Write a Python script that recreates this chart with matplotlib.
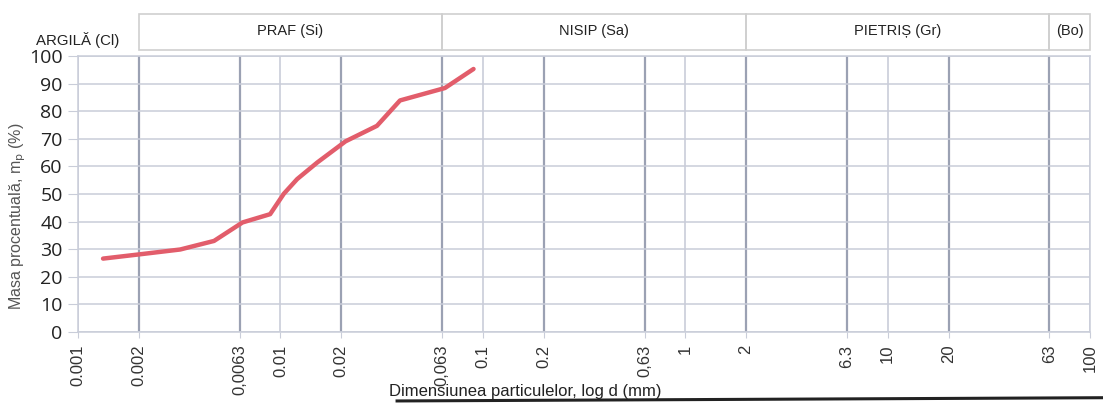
# Granulometric curve (particle size distribution)

import numpy as np
import matplotlib
matplotlib.use('Agg')
import matplotlib.pyplot as plt
from matplotlib.lines import Line2D
from matplotlib.patches import Rectangle
import matplotlib.transforms as mtransforms

# Data
diam = [0.00133, 0.0021, 0.0032, 0.0047, 0.0065, 0.0089, 0.0104,
        0.0121, 0.0152, 0.021, 0.030, 0.039, 0.065, 0.09]
passing = [26.6, 28.3, 29.9, 33.0, 39.7, 42.7, 50.1,
           55.4, 61.4, 69.1, 74.7, 83.9, 88.4, 95.3]

# tick values and their printed labels (mixed comma/dot as in the original)
x_ticks = [0.001, 0.002, 0.0063, 0.01, 0.02, 0.063, 0.1, 0.2, 0.63,
           1, 2, 6.3, 10, 20, 63, 100]
x_labels = ['0.001', '0.002', '0,0063', '0.01', '0.02', '0,063', '0.1',
            '0.2', '0,63', '1', '2', '6.3', '10', '20', '63', '100']
y_ticks = [0, 10, 20, 30, 40, 50, 60, 70, 80, 90, 100]

# soil classes on top of the chart
classes = ['PRAF (Si)', 'NISIP (Sa)', 'PIETRIȘ (Gr)', '(Bo)']
class_limits = [0.002, 0.063, 2, 63, 100]

sans = ['Liberation Sans', 'DejaVu Sans']
light = '#c9cdd9'
dark = '#9ba1b3'

fig = plt.figure(figsize=(11.03, 4.05), dpi=100)
ax = fig.add_axes([0.0707, 0.1802, 0.9175, 0.6815])

ax.set_xscale('log')
ax.set_xlim(0.001, 100)
ax.set_ylim(0, 100)

# grid: decades light, class boundaries a bit darker
for v in x_ticks:
    if np.isclose(np.log10(v), round(np.log10(v))):
        ax.axvline(v, color=light, lw=1.2, zorder=1)
    else:
        ax.axvline(v, color=dark, lw=1.6, zorder=1)
for v in y_ticks:
    ax.axhline(v, color=light, lw=1.1, zorder=1)

ax.plot(diam, passing, color='#e25d6b', lw=3.2, solid_capstyle='round', zorder=3)

ax.set_xticks(x_ticks)
ax.set_xticklabels(x_labels, rotation=90, fontfamily='Liberation Sans',
                   fontsize=12, color='#333333')
ax.xaxis.set_minor_locator(matplotlib.ticker.NullLocator())
ax.set_yticks(y_ticks)
ax.set_yticklabels([str(v) for v in y_ticks], fontfamily='Open Sans',
                   fontsize=14, color='#222222')
ax.tick_params(axis='y', length=7, color=light, pad=4)
ax.tick_params(axis='x', length=4, color=light, pad=5)

for s in ax.spines.values():
    s.set_color(light)
    s.set_linewidth(1.1)

ax.set_xlabel('Dimensiunea particulelor, log d (mm)', fontfamily=sans,
              fontsize=12, color='#222222')
ax.xaxis.set_label_coords(0.442, -0.187)
ax.set_ylabel('Masa procentuală, m$_\\mathrm{p}$ (%)', fontfamily=sans,
              fontsize=11.5, color='#555555')
ax.yaxis.set_label_coords(-0.049, 0.42)

# class boxes above the plot (x in data, y in figure fraction)
trans = mtransforms.blended_transform_factory(ax.transData, fig.transFigure)
box_bottom = 0.8765
box_top = 0.9654
for i, name in enumerate(classes):
    x0 = class_limits[i]
    x1 = class_limits[i + 1]
    rect = Rectangle((x0, box_bottom), x1 - x0, box_top - box_bottom,
                     transform=trans, fill=False, edgecolor='#cfcfcf',
                     lw=1.2, clip_on=False)
    ax.add_patch(rect)
    xc = np.sqrt(x0 * x1)
    ax.text(xc, (box_bottom + box_top) / 2 + 0.003, name, transform=trans,
            ha='center', va='center', fontfamily=sans, fontsize=10.5,
            color='#222222', clip_on=False)

fig.text(0.108, 0.9, 'ARGILĂ (Cl)', ha='right', va='center',
         fontfamily=sans, fontsize=10.8, color='#222222')

# table border visible at the bottom of the scan
fig.add_artist(Line2D([0.36, 1.0], [0.01, 0.018], transform=fig.transFigure,
                      color='#222222', lw=2.2))

plt.savefig('out.png', dpi=100)
